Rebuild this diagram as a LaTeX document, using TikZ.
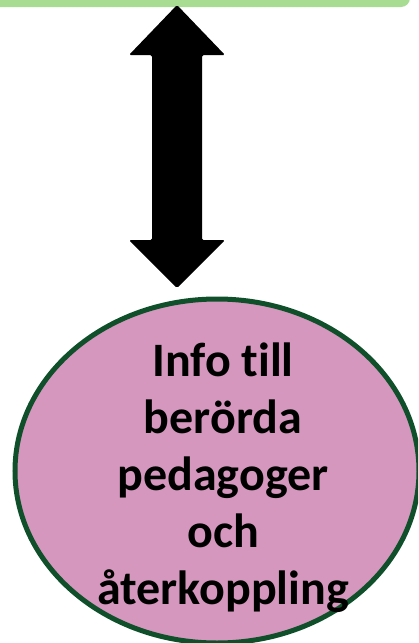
\documentclass[tikz,border=0pt]{standalone}
\usepackage{fontspec}
\setmainfont[Ligatures=NoCommon]{Carlito}
\definecolor{barGreen}{HTML}{A9DC93}
\definecolor{ringGreen}{HTML}{0F4F2A}
\definecolor{infoPink}{HTML}{D597BD}
\tikzset{
  infobubble/.style={ellipse, draw=ringGreen, line width=5pt, fill=infoPink, inner sep=0pt},
  infotxt/.style={align=center, font=\bfseries\fontsize{48}{57}\selectfont}
}
\usetikzlibrary{shapes.geometric}
\begin{document}
\begin{tikzpicture}[x=1pt,y=-1pt]
    \useasboundingbox (0,0) rectangle (418,643);
    \clip (0,0) rectangle (418,643);

    \node [fill=barGreen, rounded corners=9pt, minimum width=430pt, minimum height=30pt, inner sep=0pt] (bar) at (195,-8) {};
    \node [infobubble, minimum width=404pt, minimum height=344pt] (info) at (217,471) {};
    \node [infotxt] (infotext) at (223,478) {Info till\\berörda\\pedagoger\\och\\återkoppling};

    % double arrow between bar and bubble
    \coordinate (top) at (177,5);
    \coordinate (bot) at (177,288);
    \fill [black, rounded corners=1.5pt] (top) -- (225,55) -- (202,55) -- (202,240) -- (225,240)
        -- (bot) -- (129,240) -- (152,240) -- (152,55) -- (129,55) -- cycle;
\end{tikzpicture}
\end{document}
